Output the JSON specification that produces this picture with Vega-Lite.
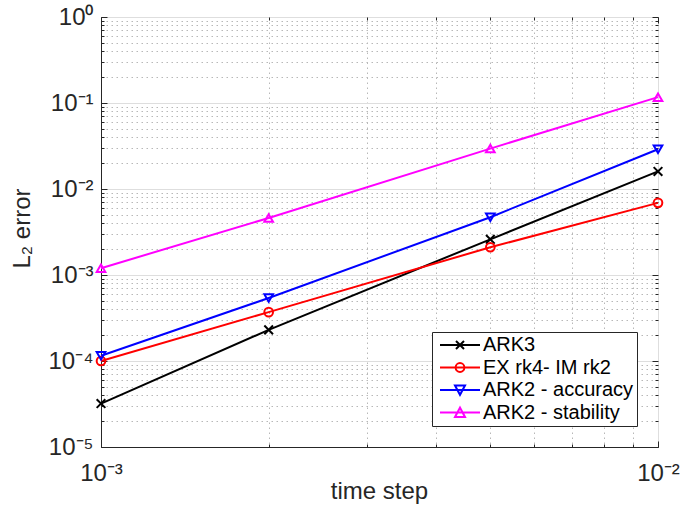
{
  "$schema": "https://vega.github.io/schema/vega-lite/v6.json",
  "width": 557,
  "height": 430,
  "autosize": {"type": "none"},
  "padding": {"left": 101, "top": 17, "right": 37, "bottom": 68},
  "background": "white",
  "config": {
    "font": "Liberation Sans",
    "view": {"stroke": "#262626", "strokeWidth": 1}
  },
  "data": {
    "values": [
      {"dt": 0.001, "err": 3.2e-5, "method": "ARK3"},
      {"dt": 0.002, "err": 2.3e-4, "method": "ARK3"},
      {"dt": 0.005, "err": 2.6e-3, "method": "ARK3"},
      {"dt": 0.01, "err": 1.6e-2, "method": "ARK3"},
      {"dt": 0.001, "err": 1.0e-4, "method": "EX rk4- IM rk2"},
      {"dt": 0.002, "err": 3.7e-4, "method": "EX rk4- IM rk2"},
      {"dt": 0.005, "err": 2.1e-3, "method": "EX rk4- IM rk2"},
      {"dt": 0.01, "err": 6.9e-3, "method": "EX rk4- IM rk2"},
      {"dt": 0.001, "err": 1.15e-4, "method": "ARK2 - accuracy"},
      {"dt": 0.002, "err": 5.4e-4, "method": "ARK2 - accuracy"},
      {"dt": 0.005, "err": 4.7e-3, "method": "ARK2 - accuracy"},
      {"dt": 0.01, "err": 2.9e-2, "method": "ARK2 - accuracy"},
      {"dt": 0.001, "err": 1.2e-3, "method": "ARK2 - stability"},
      {"dt": 0.002, "err": 4.6e-3, "method": "ARK2 - stability"},
      {"dt": 0.005, "err": 2.95e-2, "method": "ARK2 - stability"},
      {"dt": 0.01, "err": 0.117, "method": "ARK2 - stability"}
    ]
  },
  "layer": [
    {
      "mark": {"type": "line", "strokeWidth": 2},
      "encoding": {
        "x": {
          "field": "dt", "type": "quantitative",
          "scale": {"type": "log", "domain": [0.001, 0.01], "nice": false},
          "axis": {
            "orient": "bottom",
            "values": [0.001, 0.002, 0.003, 0.004, 0.005, 0.006, 0.007, 0.008, 0.009, 0.01],
            "labelExpr": "datum.value==0.001?'10⁻³':datum.value==0.01?'10⁻²':''",
            "labelFontSize": 24,
            "labelColor": "#262626",
            "labelPadding": 20,
            "labelFlush": false,
            "labelOverlap": false,
            "domainColor": "#262626",
            "tickColor": "#262626",
            "tickSize": {"condition": {"test": "datum.value==0.001||datum.value==0.01", "value": -6}, "value": -3},
            "grid": true,
            "gridColor": {"condition": {"test": "datum.value==0.001||datum.value==0.01", "value": "#dedede"}, "value": "#b8b8b8"},
            "gridDash": {"condition": {"test": "datum.value==0.001||datum.value==0.01", "value": []}, "value": [1.5, 3.5]},
            "title": "time step",
            "titleFontSize": 24,
            "titleFontWeight": "normal",
            "titleColor": "#262626",
            "titleX": 278,
            "titleY": 44,
            "titleAlign": "center",
            "titleBaseline": "middle"
          }
        },
        "y": {
          "field": "err", "type": "quantitative",
          "scale": {"type": "log", "domain": [0.00001, 1], "nice": false},
          "axis": {
            "orient": "left",
            "values": [0.00001, 0.00002, 0.00003, 0.00004, 0.00005, 0.00006, 0.00007, 0.00008, 0.00009,
                       0.0001, 0.0002, 0.0003, 0.0004, 0.0005, 0.0006, 0.0007, 0.0008, 0.0009,
                       0.001, 0.002, 0.003, 0.004, 0.005, 0.006, 0.007, 0.008, 0.009,
                       0.01, 0.02, 0.03, 0.04, 0.05, 0.06, 0.07, 0.08, 0.09,
                       0.1, 0.2, 0.3, 0.4, 0.5, 0.6, 0.7, 0.8, 0.9, 1],
            "labelExpr": "datum.value==1?'10⁰':datum.value==0.1?'10⁻¹':datum.value==0.01?'10⁻²':datum.value==0.001?'10⁻³':datum.value==0.0001?'10⁻⁴':datum.value==0.00001?'10⁻⁵':''",
            "labelFontSize": 24,
            "labelColor": "#262626",
            "labelPadding": 14,
            "labelFlush": false,
            "labelOverlap": false,
            "domainColor": "#262626",
            "tickColor": "#262626",
            "tickSize": {"condition": {"test": "abs(log(datum.value)/LN10 - round(log(datum.value)/LN10)) < 1e-6", "value": -6}, "value": -3},
            "grid": true,
            "gridColor": {"condition": {"test": "abs(log(datum.value)/LN10 - round(log(datum.value)/LN10)) < 1e-6", "value": "#dedede"}, "value": "#b8b8b8"},
            "gridDash": {"condition": {"test": "abs(log(datum.value)/LN10 - round(log(datum.value)/LN10)) < 1e-6", "value": []}, "value": [1.5, 3.5]},
            "title": "L₂ error",
            "titleFontSize": 24,
            "titleFontWeight": "normal",
            "titleColor": "#262626",
            "titleAngle": -90,
            "titleX": -79,
            "titleY": 211,
            "titleAlign": "center",
            "titleBaseline": "middle"
          }
        },
        "color": {
          "field": "method", "type": "nominal",
          "scale": {
            "domain": ["ARK3", "EX rk4- IM rk2", "ARK2 - accuracy", "ARK2 - stability"],
            "range": ["#000000", "#ff0000", "#0000ff", "#ff00ff"]
          },
          "legend": {
            "title": null,
            "orient": "none",
            "legendX": 331,
            "legendY": 315,
            "strokeColor": "#262626",
            "fillColor": "white",
            "padding": 3,
            "labelFontSize": 20,
            "labelColor": "#000000",
            "labelLimit": 400,
            "labelOffset": 28,
            "symbolSize": 64,
            "symbolStrokeWidth": 2,
            "rowPadding": 2.5,
            "encode": {
              "symbols": {
                "update": {
                  "shape": {"signal": "datum.value==='ARK3'?'M-1.25,0L8.75,0M2.75,-1L4.75,1M2.75,1L4.75,-1':datum.value==='EX rk4- IM rk2'?'M-1.25,0L8.75,0M2.65,0A1.1,1.1,0,1,0,4.85,0A1.1,1.1,0,1,0,2.65,0':datum.value==='ARK2 - accuracy'?'M-1.25,0L8.75,0M2.5,-1.1L5,-1.1L3.75,1.2Z':'M-1.25,0L8.75,0M2.5,1.1L5,1.1L3.75,-1.2Z'"},
                  "fill": {"value": "transparent"}
                }
              }
            }
          }
        }
      }
    },
    {
      "mark": {
        "type": "point", "filled": false, "strokeWidth": 2, "size": 75, "opacity": 1,
        "shape": {"expr": "datum.method==='ARK3'?'M-1,-1L1,1M-1,1L1,-1':datum.method==='EX rk4- IM rk2'?'circle':datum.method==='ARK2 - accuracy'?'triangle-down':'triangle-up'"}
      },
      "encoding": {
        "x": {
          "field": "dt", "type": "quantitative",
          "scale": {"type": "log", "domain": [0.001, 0.01], "nice": false},
          "axis": {
            "orient": "top",
            "values": [0.001, 0.002, 0.003, 0.004, 0.005, 0.006, 0.007, 0.008, 0.009, 0.01],
            "labels": false,
            "grid": false,
            "domain": false,
            "title": null,
            "tickColor": "#262626",
            "tickSize": {"condition": {"test": "datum.value==0.001||datum.value==0.01", "value": -6}, "value": -3}
          }
        },
        "y": {
          "field": "err", "type": "quantitative",
          "scale": {"type": "log", "domain": [0.00001, 1], "nice": false},
          "axis": {
            "orient": "right",
            "values": [0.00001, 0.00002, 0.00003, 0.00004, 0.00005, 0.00006, 0.00007, 0.00008, 0.00009,
                       0.0001, 0.0002, 0.0003, 0.0004, 0.0005, 0.0006, 0.0007, 0.0008, 0.0009,
                       0.001, 0.002, 0.003, 0.004, 0.005, 0.006, 0.007, 0.008, 0.009,
                       0.01, 0.02, 0.03, 0.04, 0.05, 0.06, 0.07, 0.08, 0.09,
                       0.1, 0.2, 0.3, 0.4, 0.5, 0.6, 0.7, 0.8, 0.9, 1],
            "labels": false,
            "grid": false,
            "domain": false,
            "title": null,
            "tickColor": "#262626",
            "tickSize": {"condition": {"test": "abs(log(datum.value)/LN10 - round(log(datum.value)/LN10)) < 1e-6", "value": -6}, "value": -3}
          }
        },
        "color": {"field": "method", "type": "nominal", "legend": null}
      }
    }
  ],
  "resolve": {"axis": {"x": "independent", "y": "independent"}}
}
